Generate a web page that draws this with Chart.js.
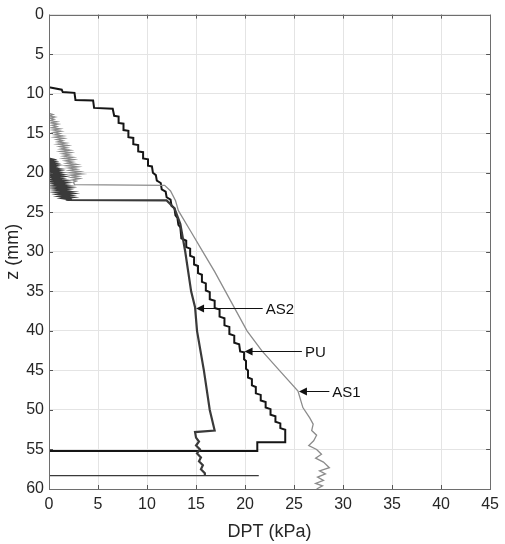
<!DOCTYPE html>
<html>
<head>
<meta charset="utf-8">
<script src="https://cdn.jsdelivr.net/npm/chart.js@4.4.1/dist/chart.umd.min.js"></script>
<style>
  body { margin: 0; background: #fff; }
  #wrap { width: 505px; height: 544px; }
</style>
</head>
<body>
<div id="wrap"><canvas id="myChart"></canvas></div>
<script>
// Data: [DPT (kPa), z (mm)]
const xTicks = [0, 5, 10, 15, 20, 25, 30, 35, 40, 45];
const zTicks = [0, 5, 10, 15, 20, 25, 30, 35, 40, 45, 50, 55, 60];

const puPoints = [
  [0,8.1],[0,9.2],[1.3,9.5],[1.4,9.8],[2.6,9.9],[2.7,10.8],[4.5,10.85],[4.6,11.8],[6.5,11.9],[6.65,12.8],
  [7.1,12.9],[7.1,13.7],[7.6,13.8],[7.6,14.6],[8.1,14.7],[8.1,15.5],[8.6,15.6],[8.6,16.4],[9.1,16.5],[9.1,17.3],
  [9.6,17.4],[9.6,18.2],[10.1,18.3],[10.1,19.1],[10.5,19.2],[10.6,20.0],[10.9,20.3],[11.0,21.0],[11.4,21.3],[11.5,22.1],
  [11.9,22.4],[12.0,23.1],[12.4,23.4],[12.5,24.2],[12.8,24.5],[12.9,25.4],[13.1,25.7],[13.2,26.6],[13.4,26.9],[13.5,28.3],
  [14.0,28.6],[14.0,29.4],[14.4,29.6],[14.4,30.5],[14.8,30.7],[14.8,31.6],[15.2,31.8],[15.2,32.7],[15.6,32.9],[15.6,33.8],
  [16.0,34.0],[16.0,34.9],[16.4,35.1],[16.4,36.0],[16.9,36.2],[16.9,37.1],[17.4,37.3],[17.4,38.2],[17.9,38.4],[17.9,39.3],
  [18.4,39.5],[18.4,40.4],[18.9,40.6],[18.9,41.5],[19.4,41.7],[19.5,42.6],[19.9,42.7],[19.9,43.6],[20.1,43.8],[20.1,44.8],
  [20.3,45.0],[20.3,45.9],[20.7,46.1],[20.7,46.9],[21.1,47.1],[21.1,47.9],[21.6,48.1],[21.6,48.8],[22.1,49.0],[22.1,49.7],
  [22.6,49.9],[22.6,50.6],[23.1,50.8],[23.1,51.5],[23.6,51.7],[23.6,52.3],[24.1,52.5],[24.1,54.1],[21.25,54.1],[21.25,55.2],
  [0,55.2]
];

const as1Points = [
  [0,12.5],[0.4,12.65],[0,12.8],[0.6,12.95],[0.1,13.1],[0.5,13.25],[0.1,13.4],[0.8,13.55],[0.2,13.7],[0.9,13.85],
  [0.3,14.0],[0.8,14.15],[0.3,14.3],[1.1,14.45],[0.4,14.6],[1.2,14.75],[0.5,14.9],[1.1,15.05],[0.6,15.2],[1.4,15.35],
  [0.6,15.5],[1.5,15.65],[0.8,15.8],[1.4,15.95],[0.9,16.1],[1.7,16.25],[0.9,16.4],[1.9,16.55],[1.1,16.7],[1.8,16.85],
  [1.2,17.0],[2.1,17.15],[1.2,17.3],[2.2,17.45],[1.4,17.6],[2.1,17.75],[1.5,17.9],[2.4,18.05],[1.5,18.2],[2.5,18.35],
  [1.7,18.5],[2.4,18.65],[1.8,18.8],[2.8,18.95],[1.8,19.1],[2.9,19.25],[2.0,19.4],[2.8,19.55],[2.1,19.7],[3.1,19.85],
  [2.1,20.0],[3.3,20.15],[2.2,20.3],[3.0,20.45],[2.3,20.6],[3.1,20.75],[2.4,20.9],[2.8,21.05],[2.5,21.2],[2.6,21.5],
  [11.8,21.6],[12.4,22.3],[12.9,23.5],[13.2,24.8],[14.5,27.5],[15.7,30],[16.9,32.5],[18.0,35],[19.1,37.5],[20.2,40],
  [21.7,42.5],[23.5,45],[25.4,47.6],[25.9,49.7],[26.6,51.0],[26.95,51.8],[26.8,52.6],[27.3,53.2],[27.0,53.9],[26.5,54.5],
  [27.3,55.0],[27.8,55.6],[27.2,56.1],[28.0,56.6],[28.6,57.3],[27.6,57.7],[28.2,58.1],[27.4,58.5],[28.0,58.9],[27.2,59.3],
  [27.9,59.6],[27.3,60]
];

const as2Points = [
  [0,18.2],[0.4,18.32],[0,18.44],[0.5,18.56],[0.05,18.68],[0.6,18.8],[0.05,18.92],[0.7,19.04],[0.1,19.16],[0.6,19.28],
  [0.15,19.4],[0.9,19.52],[0.2,19.64],[0.9,19.76],[0.25,19.88],[1.0,20.0],[0.3,20.12],[1.1,20.24],[0.3,20.36],[1.2,20.48],
  [0.4,20.6],[1.1,20.72],[0.5,20.84],[1.4,20.96],[0.5,21.08],[1.5,21.2],[0.6,21.32],[1.4,21.44],[0.7,21.56],[1.7,21.68],
  [0.8,21.8],[1.8,21.92],[0.9,22.04],[1.7,22.16],[1.0,22.28],[2.0,22.4],[1.1,22.52],[2.1,22.64],[1.2,22.76],[2.0,22.88],
  [1.3,23.0],[2.2,23.12],[1.5,23.24],[2.1,23.36],[2.0,23.45],[12.0,23.5],[12.8,24.5],[13.4,26.5],[13.9,30],[14.5,35],
  [14.9,37],[15.1,40],[15.8,45],[16.4,50],[16.9,52.6],[14.9,52.8],[15.0,53.5],[15.3,54.0],[15.0,54.5],[15.4,55.0],
  [15.1,55.5],[15.5,56.0],[15.3,56.5],[15.7,57.0],[15.5,57.5],[15.9,58.0],[15.9,58.3],[21.4,58.3],[0,58.3]
];

// Labels with arrows: text, arrow tip (x, z), end of arrow line (x)
const labelNames = ["AS2", "PU", "AS1"];
const labelTipX = [15.0, 19.95, 25.5];
const labelTipZ = [37.1, 42.6, 47.6];
const labelEndX = [21.8, 25.8, 28.6];

function toXY(list) {
  return list.map(p => ({x: p[0], y: p[1]}));
}

const frameAndLabels = {
  id: 'frameAndLabels',
  afterDatasetsDraw(chart) {
    const ctx = chart.ctx;
    const a = chart.chartArea;
    const sx = chart.scales.x, sy = chart.scales.y;
    ctx.save();
    // inward ticks on all four sides
    ctx.strokeStyle = '#555';
    ctx.lineWidth = 1;
    ctx.beginPath();
    xTicks.forEach(v => {
      const px = Math.round(sx.getPixelForValue(v)) + 0.5;
      ctx.moveTo(px, a.bottom); ctx.lineTo(px, a.bottom - 4);
      ctx.moveTo(px, a.top); ctx.lineTo(px, a.top + 4);
    });
    zTicks.forEach(v => {
      const py = Math.round(sy.getPixelForValue(v)) + 0.5;
      ctx.moveTo(a.left, py); ctx.lineTo(a.left + 4, py);
      ctx.moveTo(a.right, py); ctx.lineTo(a.right - 4, py);
    });
    ctx.stroke();
    ctx.strokeStyle = '#6e6e6e';
    ctx.strokeRect(Math.round(a.left) + 0.5, Math.round(a.top) + 0.5,
      Math.round(a.right - a.left), Math.round(a.bottom - a.top));

    // arrows and labels
    ctx.fillStyle = '#111';
    ctx.strokeStyle = '#111';
    ctx.font = '15px "Liberation Sans", Arial, sans-serif';
    ctx.textBaseline = 'middle';
    labelNames.forEach((name, i) => {
      const tx = sx.getPixelForValue(labelTipX[i]);
      const ty = Math.round(sy.getPixelForValue(labelTipZ[i])) + 0.5;
      const ex = sx.getPixelForValue(labelEndX[i]);
      ctx.beginPath();
      ctx.moveTo(tx + 6, ty); ctx.lineTo(ex, ty);
      ctx.stroke();
      ctx.beginPath();
      ctx.moveTo(tx, ty);
      ctx.lineTo(tx + 8, ty - 4);
      ctx.lineTo(tx + 8, ty + 4);
      ctx.closePath();
      ctx.fill();
      ctx.fillText(name, ex + 3, ty + 1);
    });
    ctx.restore();
  }
};

const tickFont = {family: '"Liberation Sans", Arial, sans-serif', size: 16};
const titleFont = {family: '"Liberation Sans", Arial, sans-serif', size: 18};
const lastAs2 = as2Points.length - 3;

new Chart(document.getElementById('myChart'), {
  type: 'scatter',
  data: {
    datasets: [
      {label: 'AS1', data: toXY(as1Points), showLine: true, borderColor: '#8c8c8c', borderWidth: 1.3, pointRadius: 0, tension: 0},
      {label: 'AS2', data: toXY(as2Points), showLine: true, borderColor: '#3a3a3a', borderWidth: 2.2, pointRadius: 0, tension: 0,
        segment: {borderWidth: c => c.p0DataIndex >= lastAs2 ? 1.2 : undefined}},
      {label: 'PU', data: toXY(puPoints), showLine: true, borderColor: '#151515', borderWidth: 2, pointRadius: 0, tension: 0}
    ]
  },
  options: {
    responsive: true,
    maintainAspectRatio: false,
    animation: false,
    layout: {padding: {top: 14, right: 9, left: 0, bottom: 0}},
    plugins: {legend: {display: false}, tooltip: {enabled: false}},
    scales: {
      x: {
        type: 'linear', min: 0, max: 45,
        afterBuildTicks: s => { s.ticks = xTicks.map(v => ({value: v})); },
        afterFit: s => { s.height = 55; },
        grid: {color: '#e4e4e4', drawTicks: false},
        border: {display: false},
        ticks: {font: tickFont, color: '#262626', padding: 6},
        title: {display: true, text: 'DPT (kPa)', font: titleFont, color: '#262626', padding: {top: 4, bottom: 1}}
      },
      y: {
        type: 'linear', min: 0, max: 60, reverse: true,
        afterBuildTicks: s => { s.ticks = zTicks.map(v => ({value: v})); },
        afterFit: s => { s.width = 49; },
        grid: {color: '#e4e4e4', drawTicks: false},
        border: {display: false},
        ticks: {font: tickFont, color: '#262626', padding: 5},
        title: {display: true, text: 'z (mm)', font: titleFont, color: '#262626', padding: {top: 2, bottom: 1}}
      }
    }
  },
  plugins: [frameAndLabels]
});
</script>
</body>
</html>
